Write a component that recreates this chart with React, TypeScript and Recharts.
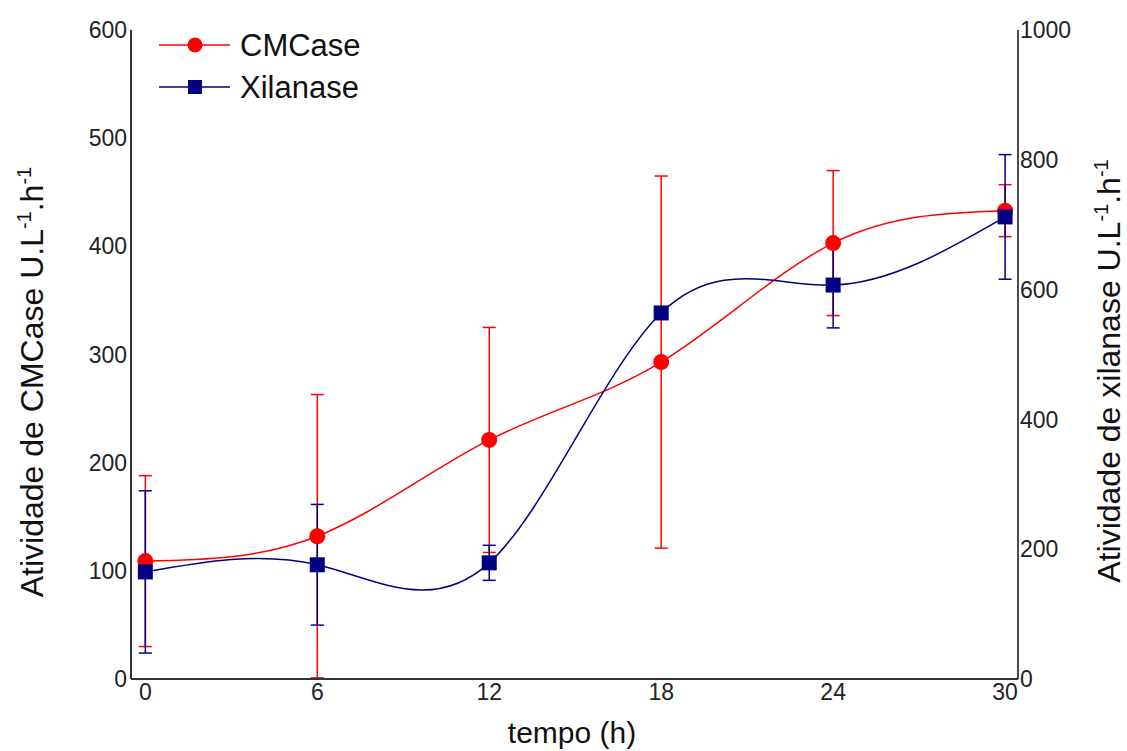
import React from "react";
import {
  LineChart,
  Line,
  XAxis,
  YAxis,
  ErrorBar,
  Legend,
} from "recharts";

const hours = [0, 6, 12, 18, 24, 30];
const cmcase = [109, 132, 221, 293, 403, 433];
const cmcaseErr = [79, 131, 104, 172, 67, 24];
const xilanase = [165, 176, 179, 564, 607, 712];
const xilanaseErr = [125, 93, 27, 8, 66, 96];

const xTicks = [0, 6, 12, 18, 24, 30];
const leftTicks = [0, 100, 200, 300, 400, 500, 600];
const rightTicks = [0, 200, 400, 600, 800, 1000];

const RED = "#ff0000";
const NAVY = "#000080";
const FONT = "'Liberation Sans', Arial, sans-serif";

const data = hours.map((h, i) => ({
  h,
  cm: cmcase[i],
  cmErr: cmcaseErr[i],
  xi: xilanase[i],
  xiErr: xilanaseErr[i],
}));

function RedDot(props: any) {
  const { cx, cy } = props;
  if (cx == null || cy == null) return null;
  return <circle cx={cx} cy={cy} r={8} fill={RED} />;
}

function BlueDot(props: any) {
  const { cx, cy } = props;
  if (cx == null || cy == null) return null;
  return <rect x={cx - 7.5} y={cy - 7.5} width={15} height={15} fill={NAVY} />;
}

function Unit() {
  return (
    <>
      <tspan> U.L</tspan>
      <tspan dy={-12} fontSize={20}>-1</tspan>
      <tspan dy={12}>.h</tspan>
      <tspan dy={-12} fontSize={20}>-1</tspan>
    </>
  );
}

function LeftTitle() {
  return (
    <text
      x={43}
      y={382}
      transform="rotate(-90 43 382)"
      textAnchor="middle"
      fontSize={32}
      fontFamily={FONT}
      fill="#111"
    >
      Atividade de CMCase
      <Unit />
    </text>
  );
}

function RightTitle() {
  return (
    <text
      x={1120}
      y={371}
      transform="rotate(-90 1120 371)"
      textAnchor="middle"
      fontSize={32}
      fontFamily={FONT}
      fill="#111"
    >
      Atividade de xilanase
      <Unit />
    </text>
  );
}

function BottomTitle() {
  return (
    <text x={572} y={743} textAnchor="middle" fontSize={30} fontFamily={FONT} fill="#111">
      tempo (h)
    </text>
  );
}

function LegendBox() {
  const rows = [
    { name: "CMCase", color: RED, square: false, cy: 21 },
    { name: "Xilanase", color: NAVY, square: true, cy: 63 },
  ];
  return (
    <svg width={240} height={90} style={{ display: "block" }}>
      {rows.map((r) => (
        <g key={r.name}>
          <line x1={4} x2={75} y1={r.cy} y2={r.cy} stroke={r.color} strokeWidth={1.5} />
          {r.square ? (
            <rect x={33} y={r.cy - 7} width={14} height={14} fill={r.color} />
          ) : (
            <circle cx={40} cy={r.cy} r={7.5} fill={r.color} />
          )}
          <text x={85} y={r.cy + 11} fontSize={31} fontFamily={FONT} fill="#111">
            {r.name}
          </text>
        </g>
      ))}
    </svg>
  );
}

export default function App() {
  const tick = { fill: "#222", fontSize: 23, fontFamily: FONT };
  return (
    <div style={{ position: "absolute", left: 0, top: 0, background: "#fff" }}>
      <LineChart
        width={1127}
        height={751}
        data={data}
        margin={{ top: 30, right: 0, bottom: 0, left: 0 }}
      >
        <XAxis
          dataKey="h"
          type="number"
          domain={[-0.5, 30.45]}
          ticks={xTicks}
          tick={tick}
          tickLine={false}
          tickSize={0}
          tickMargin={5}
          height={72}
          axisLine={{ stroke: "#333", strokeWidth: 2 }}
          label={<BottomTitle />}
        />
        <YAxis
          yAxisId="left"
          domain={[0, 600]}
          ticks={leftTicks}
          tick={tick}
          tickLine={false}
          tickSize={0}
          tickMargin={4}
          width={131}
          axisLine={{ stroke: "#333", strokeWidth: 2 }}
          label={<LeftTitle />}
        />
        <YAxis
          yAxisId="right"
          orientation="right"
          domain={[0, 1000]}
          ticks={rightTicks}
          tick={tick}
          tickLine={false}
          tickSize={0}
          tickMargin={2}
          width={109}
          axisLine={{ stroke: "#111", strokeWidth: 1.5 }}
          label={<RightTitle />}
        />
        <Legend
          layout="horizontal"
          verticalAlign="middle"
          align="center"
          wrapperStyle={{ left: 155, top: 24, width: 240, height: 90 }}
          content={<LegendBox />}
        />
        <Line
          yAxisId="left"
          type="natural"
          dataKey="cm"
          name="CMCase"
          stroke={RED}
          strokeWidth={1.5}
          dot={<RedDot />}
          activeDot={false}
          isAnimationActive={false}
        >
          <ErrorBar dataKey="cmErr" direction="y" width={6.5} stroke={RED} strokeWidth={1.5} />
        </Line>
        <Line
          yAxisId="right"
          type="natural"
          dataKey="xi"
          name="Xilanase"
          stroke={NAVY}
          strokeWidth={1.5}
          dot={<BlueDot />}
          activeDot={false}
          isAnimationActive={false}
        >
          <ErrorBar dataKey="xiErr" direction="y" width={6.5} stroke={NAVY} strokeWidth={1.5} />
        </Line>
      </LineChart>
    </div>
  );
}
